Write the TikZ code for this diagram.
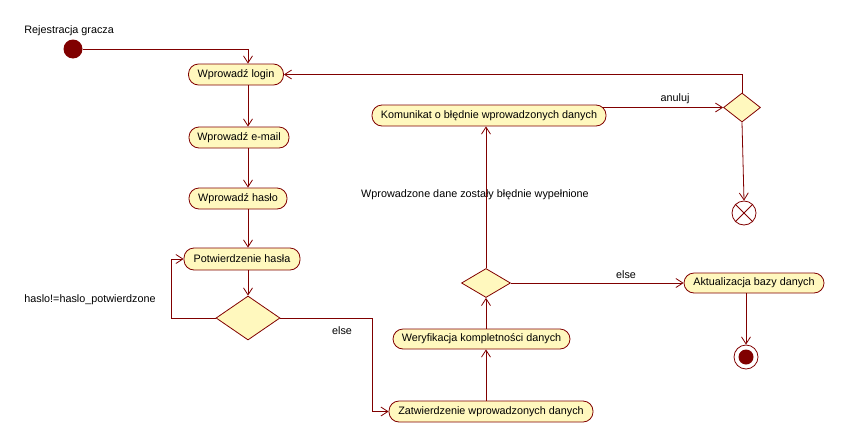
\documentclass[tikz,border=0pt]{standalone}
\usepackage{fontspec}
\setmainfont{Liberation Sans}
\usetikzlibrary{arrows.meta,shapes.geometric}
\definecolor{umlline}{RGB}{128,0,0}
\definecolor{umlfill}{RGB}{255,248,190}
\begin{document}
\begin{tikzpicture}[x=1pt,y=-1pt,
  font=\fontsize{10.8}{13}\selectfont,
  line width=0.8pt,
  act/.style={draw=umlline,fill=umlfill,rounded corners=10pt,minimum height=21pt,inner sep=0pt},
  dec/.style={draw=umlline,fill=umlfill,diamond,inner sep=0pt},
  arr/.style={draw=umlline,-{Straight Barb[length=7pt,width=9pt]}},
  lin/.style={draw=umlline},
  lbl/.style={inner sep=0pt}]
\useasboundingbox (0,0) rectangle (845,442);
% nodes
\node[circle,fill=umlline,minimum size=19pt,inner sep=0pt] (start) at (73,49) {};
\node[lbl,anchor=west] (startlbl) at (24,31) {Rejestracja gracza};
\node[act,minimum width=95pt] (login) at (236,74.5) {Wprowadź login};
\node[act,minimum width=100pt] (email) at (239,137.5) {Wprowadź e-mail};
\node[act,minimum width=98pt] (haslo) at (238,198.5) {Wprowadź hasło};
\node[act,minimum width=116pt,minimum height=22pt] (potw) at (242,259) {Potwierdzenie hasła};
\node[dec,minimum width=64pt,minimum height=44pt] (d1) at (248,318) {};
\node[lbl,anchor=west] (d1lbl) at (24,300) {haslo!=haslo\_potwierdzone};
\node[lbl] (else1) at (342,331) {else};
\node[act,minimum width=204pt] (zatw) at (491,411.5) {Zatwierdzenie wprowadzonych danych};
\node[act,minimum width=177pt,minimum height=20pt] (wer) at (481.5,339) {Weryfikacja kompletności danych};
\node[dec,minimum width=49pt,minimum height=29pt] (d2) at (486,283) {};
\node[lbl] (else2) at (626,275) {else};
\node[act,minimum width=140pt,minimum height=20pt] (akt) at (754,283) {Aktualizacja bazy danych};
\node[circle,draw=umlline,fill=white,minimum size=24pt,inner sep=0pt] (fin) at (746,357) {};
\node[lbl] (errlbl) at (475,195) {Wprowadzone dane zostały błędnie wypełnione};
\node[act,minimum width=234pt] (kom) at (489,115.5) {Komunikat o błędnie wprowadzonych danych};
\node[dec,minimum width=37pt,minimum height=29pt] (d3) at (742,107.5) {};
\node[lbl] (anuluj) at (675,99) {anuluj};
\node[circle,draw=umlline,fill=white,minimum size=24pt,inner sep=0pt] (ff) at (744,213) {};
\coordinate (col) at (486,0);
% decorations of final nodes
\fill[umlline] (fin) circle (7.5pt);
\draw[lin] (ff.45) -- (ff.225);
\draw[lin] (ff.135) -- (ff.315);
% connectors
\draw[arr] (start) -| (login.north -| d1);
\draw[arr] (login.south -| d1) -- (email.north -| d1);
\draw[arr] (email.south -| d1) -- (haslo.north -| d1);
\draw[arr] (haslo.south -| d1) -- (potw.north -| d1);
\draw[arr] (potw.south -| d1) -- (d1.north);
\draw[arr] (d1.west) -- ++(-44,0) |- (potw.west);
\draw[arr] (d1.east) -- ++(92,0) |- (zatw.west);
\draw[arr] (zatw.north -| col) -- (wer.south -| col);
\draw[arr] (wer.north -| col) -- (d2.south);
\draw[arr] (d2.east) -- (akt.west);
\draw[arr] (akt.south -| fin) -- (fin.north);
\draw[arr] (d2.north) -- (kom.south -| d2);
\draw[arr] ([xshift=-3pt]kom.east |- d3) -- (d3.west);
\draw[arr] (d3.north) |- (login.east);
\draw[arr] (d3.south) -- (ff.north);
\end{tikzpicture}
\end{document}
